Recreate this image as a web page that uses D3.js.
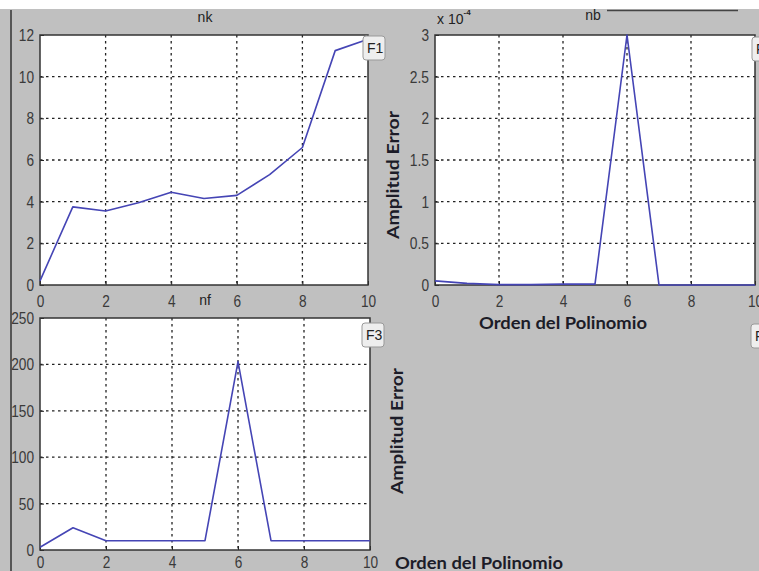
<html>
<head>
  <meta charset="UTF-8">
  <title>nk nb nf</title>
  <script src="https://cdn.jsdelivr.net/npm/d3@7"></script>
  <style>
    body { margin: 0; background: #fff; }
    .tick text { font-family: "Liberation Sans", Arial, sans-serif; font-size: 17px; fill: #3a3a3a; }
    .lbl { font-family: Lato, "Open Sans", sans-serif; font-weight: bold; font-size: 17px; fill: #1c1c28; }
    .ttl { font-family: "Liberation Sans", Arial, sans-serif; font-size: 14px; fill: #222; }
    .btn text { font-family: "Liberation Sans", Arial, sans-serif; font-size: 14px; fill: #222; }
  </style>
</head>
<body>
<svg id="chart" width="759" height="571"></svg>
<script>
// ---- data ----
const orden = [0, 1, 2, 3, 4, 5, 6, 7, 8, 9, 10];
const nk = [0.2, 3.75, 3.55, 3.95, 4.45, 4.15, 4.3, 5.3, 6.6, 11.25, 11.8];
const nb = [0.05, 0.02, 0.005, 0.005, 0.01, 0.01, 3.0, 0, 0, 0, 0];   // x 10^-?
const nf = [3, 24, 10, 10, 10, 10, 203, 10, 10, 10, 10];
const xTicks = [0, 2, 4, 6, 8, 10];
const nkTicks = [0, 2, 4, 6, 8, 10, 12];
const nbTicks = [0, 0.5, 1, 1.5, 2, 2.5, 3];
const nfTicks = [0, 50, 100, 150, 200, 250];

const svg = d3.select("#chart");

// background
svg.append("rect").attr("width", 759).attr("height", 571).attr("fill", "#c0c0c0");
svg.append("rect").attr("width", 759).attr("height", 9).attr("fill", "#fff");
svg.append("line").attr("x1", 11).attr("x2", 11).attr("y1", 10).attr("y2", 571)
  .attr("stroke", "#333").attr("stroke-width", 1.5);

// narrow look for the tick numbers
function narrow(sel) {
  sel.each(function () {
    const s = this.textContent;
    let len = 0;
    for (const c of s) len += (c === "." ? 4 : 7.6);
    d3.select(this).attr("textLength", len).attr("lengthAdjust", "spacingAndGlyphs");
  });
}

//-----------------------------------------
function drawPanel(p) {
  const w = p.x1 - p.x0, h = p.y1 - p.y0;
  const x = d3.scaleLinear().domain([0, 10]).range([p.x0, p.x1]);
  const y = d3.scaleLinear().domain(p.ydom).range([p.y1, p.y0]);
  const g = svg.append("g");

  g.append("rect").attr("x", p.x0).attr("y", p.y0).attr("width", w).attr("height", h)
    .attr("fill", "#fff");

  // dotted grid
  const grid = g.append("g").attr("stroke", "#222").attr("stroke-width", 1.3)
    .attr("stroke-dasharray", "2.5,3.5");
  grid.selectAll(".gx").data(xTicks.slice(1, -1)).enter().append("line")
    .attr("x1", d => x(d)).attr("x2", d => x(d)).attr("y1", p.y0).attr("y2", p.y1);
  grid.selectAll(".gy").data(p.yticks.slice(1, -1)).enter().append("line")
    .attr("y1", d => y(d)).attr("y2", d => y(d)).attr("x1", p.x0).attr("x2", p.x1);

  // axes
  const ax = g.append("g").attr("transform", "translate(0," + p.y1 + ")")
    .call(d3.axisBottom(x).tickValues(xTicks).tickSizeInner(-4).tickSizeOuter(0).tickPadding(p.xpad));
  const ay = g.append("g").attr("transform", "translate(" + p.x0 + ",0)")
    .call(d3.axisLeft(y).tickValues(p.yticks).tickSizeInner(-4).tickSizeOuter(0).tickPadding(6)
      .tickFormat(d => String(d)));
  ax.select(".domain").remove();
  ay.select(".domain").remove();
  ax.selectAll("line").attr("stroke", "#222");
  ay.selectAll("line").attr("stroke", "#222");
  ax.selectAll("text").attr("dy", "0.71em");
  narrow(ax.selectAll("text"));
  narrow(ay.selectAll("text"));

  // box
  g.append("rect").attr("x", p.x0).attr("y", p.y0).attr("width", w).attr("height", h)
    .attr("fill", "none").attr("stroke", "#333").attr("stroke-width", 1.5);

  // series
  const line = d3.line().x((d, i) => x(orden[i])).y(d => y(d));
  g.append("path").datum(p.values).attr("d", line)
    .attr("fill", "none").attr("stroke", "#4545b5").attr("stroke-width", 1.6)
    .attr("stroke-linejoin", "round");
}

function button(bx, by, label) {
  const b = svg.append("g").attr("class", "btn");
  b.append("rect").attr("x", bx).attr("y", by).attr("width", 22).attr("height", 24).attr("rx", 3)
    .attr("fill", "#eeeeee").attr("stroke", "#999");
  b.append("text").attr("x", bx + 4).attr("y", by + 17).text(label);
}

drawPanel({ x0: 40, x1: 368, y0: 35, y1: 285, ydom: [0, 12], yticks: nkTicks, values: nk, xpad: 10 });
drawPanel({ x0: 435, x1: 755, y0: 35, y1: 285, ydom: [0, 3], yticks: nbTicks, values: nb, xpad: 10 });
drawPanel({ x0: 40, x1: 370, y0: 318, y1: 550, ydom: [0, 250], yticks: nfTicks, values: nf, xpad: 6 });

// titles
svg.append("text").attr("class", "ttl").attr("x", 205).attr("y", 22).attr("text-anchor", "middle").text("nk");
svg.append("text").attr("class", "ttl").attr("x", 205).attr("y", 305).attr("text-anchor", "middle").text("nf");
svg.append("text").attr("class", "ttl").attr("x", 593).attr("y", 20).attr("text-anchor", "middle").text("nb");
svg.append("line").attr("x1", 607).attr("x2", 738).attr("y1", 10.5).attr("y2", 10.5)
  .attr("stroke", "#444").attr("stroke-width", 1.5);
const ex = svg.append("text").attr("class", "ttl").attr("x", 437).attr("y", 24);
ex.append("tspan").text("x 10");
ex.append("tspan").attr("dy", -9).attr("font-size", 8).attr("font-weight", "bold").text("-4");

// axis labels
function ylab(cx, cy, len) {
  svg.append("text").attr("class", "lbl")
    .attr("transform", "translate(" + cx + "," + cy + ") rotate(-90)")
    .attr("text-anchor", "middle").attr("textLength", len).attr("lengthAdjust", "spacingAndGlyphs")
    .text("Amplitud Error");
}
function xlab(lx, ly, len) {
  svg.append("text").attr("class", "lbl").attr("x", lx).attr("y", ly)
    .attr("textLength", len).attr("lengthAdjust", "spacingAndGlyphs")
    .text("Orden del Polinomio");
}
ylab(399, 175, 128);
ylab(403, 431, 126);
xlab(479, 329, 168);
xlab(395, 569, 168);

// buttons
button(363, 36, "F1");
button(752, 37, "F");
button(362, 323, "F3");
button(751, 324, "F");
</script>
</body>
</html>
